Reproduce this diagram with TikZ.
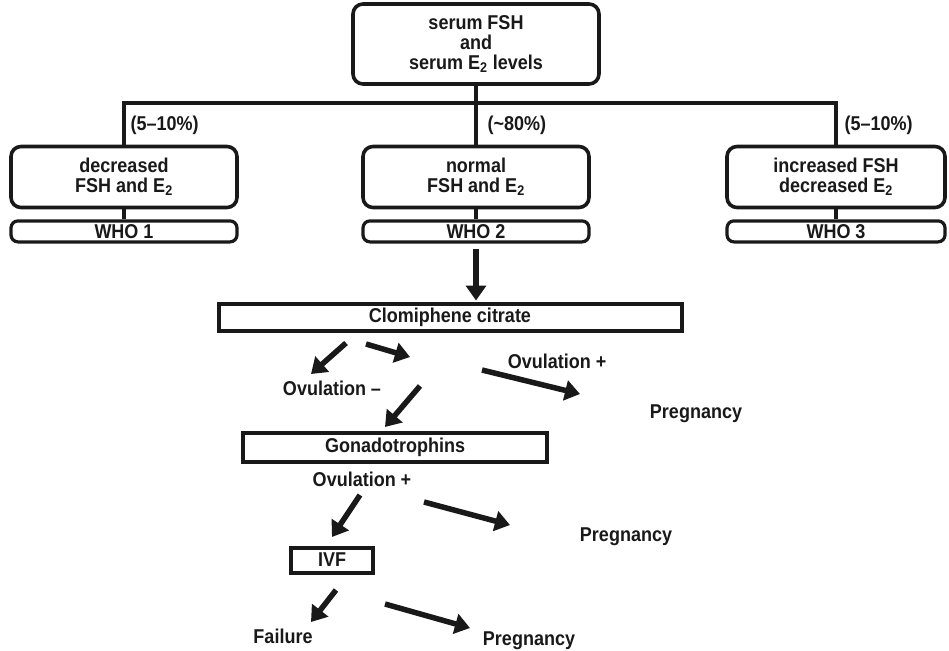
\documentclass[tikz,border=0pt]{standalone}
\usepackage{fontspec}
\setmainfont{Liberation Sans}[FakeStretch=0.9]
\usetikzlibrary{positioning,arrows.meta}

\begin{document}
\begin{tikzpicture}[
    x=1pt, y=-1pt,
    every node/.style={font=\fontsize{20}{20}\selectfont\bfseries, text=black!90},
    roundbox/.style={rectangle, rounded corners=10pt, draw=black!90, line width=3.6pt, align=center, inner sep=0pt},
    whobox/.style={rectangle, rounded corners=7pt, draw=black!90, line width=3.2pt, inner sep=0pt, minimum height=21pt},
    flatbox/.style={rectangle, draw=black!90, line width=4pt, inner sep=0pt},
    treeline/.style={draw=black!90, line width=3.4pt},
    fatarrow/.style={draw=black!90, line width=5.5pt, -{Triangle[length=15pt,width=20pt]}},
    ]
      \useasboundingbox (0,0) rectangle (949,650);

      %Nodes
      \node[roundbox, minimum width=246pt, minimum height=80pt] (serum) at (476,44) {serum FSH\\and\\serum E\textsubscript{2} levels};
      \coordinate (split) at (476,103);

      \node[roundbox, minimum width=226pt, minimum height=61pt] (dec)  at (124,177) {decreased\\FSH and E\textsubscript{2}};
      \node[roundbox, minimum width=226pt, minimum height=61pt] (norm) at (476,177) {normal\\FSH and E\textsubscript{2}};
      \node[roundbox, minimum width=218pt, minimum height=61pt] (inc)  at (836,177) {increased FSH\\decreased E\textsubscript{2}};

      \node[whobox, minimum width=226pt] (who1) [below=10pt of dec]  {WHO 1};
      \node[whobox, minimum width=226pt] (who2) [below=10pt of norm] {WHO 2};
      \node[whobox, minimum width=218pt] (who3) [below=10pt of inc]  {WHO 3};

      \node[anchor=west] (pc1) at (127,125) {(5--10\%)};
      \node[anchor=west] (pc2) at (484,125) {(\char`~80\%)};
      \node[anchor=west] (pc3) at (841,125) {(5--10\%)};

      \node[flatbox, minimum width=463pt, minimum height=27pt] (clom) at (450,317) {Clomiphene citrate};
      \node (ovneg)  at (332,388) {Ovulation --};
      \node (ovpos1) at (557,361) {Ovulation +};
      \node (preg1)  at (696,414) {Pregnancy};

      \node[flatbox, minimum width=304pt, minimum height=29pt] (gona) at (395,447) {Gonadotrophins};
      \node (ovpos2) at (362,479) {Ovulation +};
      \node (preg2)  at (626,537) {Pregnancy};

      \node[flatbox, minimum width=82pt, minimum height=25pt] (ivf) at (332,560) {IVF};
      \node (fail)   at (283,636) {Failure};
      \node (preg3)  at (529,641) {Pregnancy};

      %Arrow ends
      \coordinate (cl-a) at (346,343);  \coordinate (cl-b) at (311,374);
      \coordinate (cl-c) at (366,344);  \coordinate (cl-d) at (410,357);
      \coordinate (op-a) at (482,370);  \coordinate (op-b) at (580,394);
      \coordinate (on-a) at (420,386);  \coordinate (on-b) at (385,427);
      \coordinate (go-a) at (360,495);  \coordinate (go-b) at (332,537);
      \coordinate (go-c) at (424,502);  \coordinate (go-d) at (510,525);
      \coordinate (iv-a) at (336,590);  \coordinate (iv-b) at (311,622);
      \coordinate (iv-c) at (385,604);  \coordinate (iv-d) at (470,628);

      %Lines
      \draw[treeline] (serum.south) -- (split);
      \draw[treeline] (dec.north) |- (split) -| (inc.north);
      \draw[treeline] (split) -- (norm.north);
      \draw[treeline] (dec.south) -- (who1.north);
      \draw[treeline] (norm.south) -- (who2.north);
      \draw[treeline] (inc.south) -- (who3.north);

      %Arrows
      \draw[fatarrow, shorten <=5pt, shorten >=1pt] (who2.south) -- (who2.south |- clom.north);
      \draw[fatarrow] (cl-a) -- (cl-b);
      \draw[fatarrow] (cl-c) -- (cl-d);
      \draw[fatarrow] (op-a) -- (op-b);
      \draw[fatarrow] (on-a) -- (on-b);
      \draw[fatarrow] (go-a) -- (go-b);
      \draw[fatarrow] (go-c) -- (go-d);
      \draw[fatarrow] (iv-a) -- (iv-b);
      \draw[fatarrow] (iv-c) -- (iv-d);
\end{tikzpicture}
\end{document}
